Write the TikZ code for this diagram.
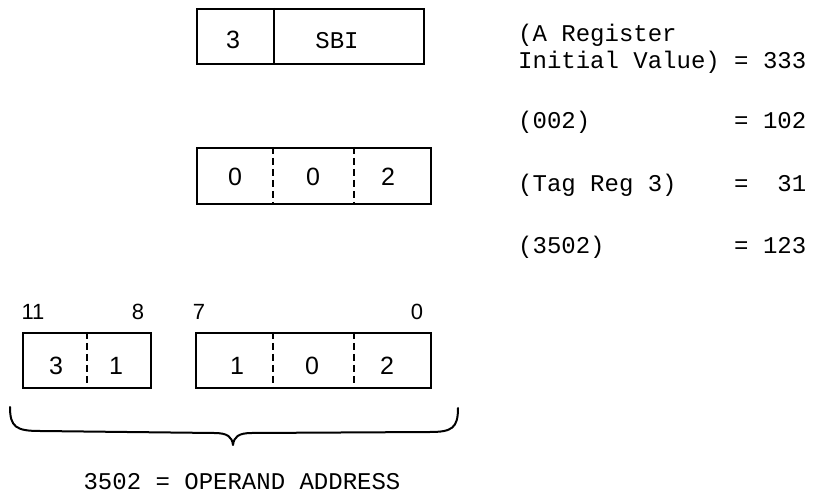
\documentclass[tikz,border=0pt]{standalone}
\usepackage{fontspec}
\setmainfont{Liberation Sans}
\setsansfont{Liberation Sans}
\setmonofont{Liberation Mono}
\usetikzlibrary{calc}
\tikzset{
  reg/.style={draw, line width=2.4pt, inner sep=0pt, minimum height=55pt, anchor=north west},
  digit/.style={font=\fontsize{25}{28}\selectfont\sffamily, inner sep=0pt},
  bitno/.style={font=\fontsize{22}{25}\selectfont\sffamily, inner sep=0pt},
  tw/.style={font=\fontsize{24}{27}\selectfont\ttfamily, inner sep=0pt, align=left},
  solidsplit/.style={line width=2.2pt},
  dashsplit/.style={line width=2pt, dash pattern=on 7pt off 4pt},
  brace/.style={line width=2pt, line cap=round, line join=round}
}

\begin{document}
\begin{tikzpicture}[x=1pt, y=-1pt]
  \useasboundingbox (0,0) rectangle (820,502);

  % instruction word
  \node[reg, minimum width=227pt] (instr) at (196,8) {};
  \draw[solidsplit] (274,0 |- instr.north) -- (274,0 |- instr.south);
  \node[digit] (tagno) at (233,40) {3};
  \node[tw] (opcode) at (337,41) {SBI};

  % address field
  \node[reg, minimum width=234pt, minimum height=56pt] (addr) at (196,147) {};
  \draw[dashsplit] (273,0 |- addr.north) -- (273,0 |- addr.south);
  \draw[dashsplit] (354,0 |- addr.north) -- (354,0 |- addr.south);
  \node[digit] (addrA) at (235,177) {0};
  \node[digit] (addrB) at (313,177) {0};
  \node[digit] (addrC) at (388,177) {2};

  % effective address
  \node[reg, minimum width=128pt] (hibits) at (22,332) {};
  \draw[dashsplit] (87,0 |- hibits.north) -- (87,0 |- hibits.south);
  \node[digit] (hiA) at (56,366) {3};
  \node[digit] (hiB) at (116,366) {1};

  \node[reg, minimum width=235pt] (lobits) at (195,332) {};
  \draw[dashsplit] (273,0 |- lobits.north) -- (273,0 |- lobits.south);
  \draw[dashsplit] (354,0 |- lobits.north) -- (354,0 |- lobits.south);
  \node[digit] (loA) at (237,366) {1};
  \node[digit] (loB) at (312,366) {0};
  \node[digit] (loC) at (387,366) {2};

  \node[bitno] (b11) at (33,312) {11};
  \node[bitno] (b8) at (138,312) {8};
  \node[bitno] (b7) at (199,312) {7};
  \node[bitno] (b0) at (417,312) {0};

  \draw[brace] (10,407) .. controls (10,427) and (16,431) .. (40,431)
    -- (214,433) .. controls (228,433) and (232,437) .. (233,445)
    .. controls (234,437) and (238,433) .. (252,433)
    -- (430,432) .. controls (452,432) and (458,428) .. (458,408);

  \node[tw] (result) at (242,482) {3502 = OPERAND ADDRESS};

  % register contents
  \node[tw, anchor=west] (areg) at (518,48.5) {(A Register\\Initial Value) = 333};
  \node[tw, anchor=west] (mem002) at (518,122) {(002)~~~~~~~~~~=~102};
  \node[tw, anchor=west] (tagreg) at (518,185) {(Tag~Reg~3)~~~~=~~31};
  \node[tw, anchor=west] (mem3502) at (518,247) {(3502)~~~~~~~~~=~123};
\end{tikzpicture}
\end{document}
